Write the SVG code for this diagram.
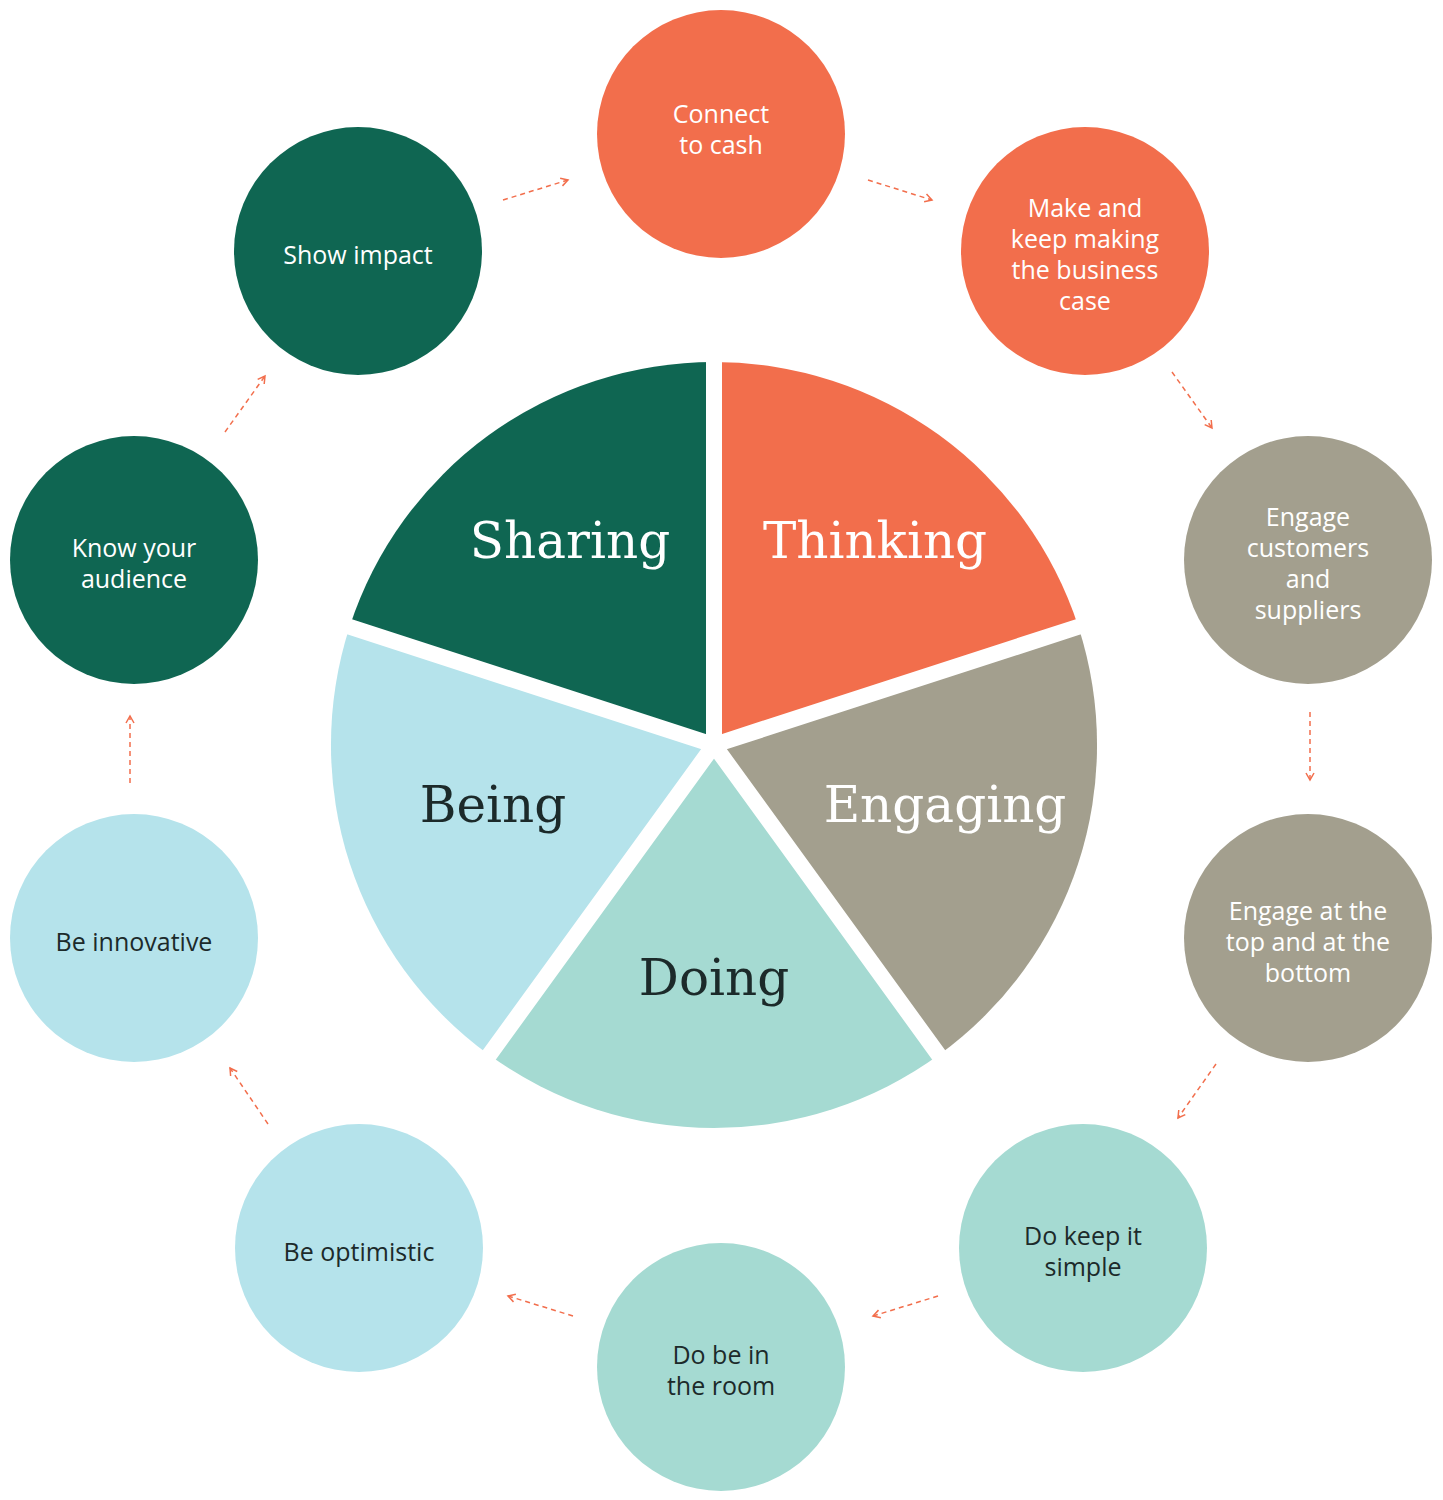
<svg xmlns="http://www.w3.org/2000/svg" width="1443" height="1500" viewBox="0 0 1443 1500">
<style>
.t{font-family:"Open Sans","Noto Sans",sans-serif;font-size:25px;text-anchor:middle}
.w{fill:#fff}.d{fill:#1c2a2a}
.s{font-family:"DejaVu Serif","Liberation Serif",serif;font-size:50px;text-anchor:middle}
.c{stroke:#F26E4C;stroke-width:1.5;stroke-dasharray:5 4;fill:none;marker-end:url(#a)}
</style>
<defs><marker id="a" markerWidth="10" markerHeight="10" refX="8" refY="5" orient="auto" markerUnits="userSpaceOnUse"><path d="M1,1 L8,5 L1,9" fill="none" stroke="#F26E4C" stroke-width="1.5"/></marker></defs>
<rect width="1443" height="1500" fill="#fff"/>
<g id="pie">
<path d="M714,745 L714,362 A383,383 0 0 1 1078.3,626.6Z" fill="#F26E4C"/>
<path d="M714,745 L1078.3,626.6 A383,383 0 0 1 939.1,1054.8Z" fill="#A39F8E"/>
<path d="M714,745 L939.1,1054.8 A383,383 0 0 1 488.9,1054.8Z" fill="#A5DAD2"/>
<path d="M714,745 L488.9,1054.8 A383,383 0 0 1 349.7,626.6Z" fill="#B5E3EB"/>
<path d="M714,745 L349.7,626.6 A383,383 0 0 1 714,362Z" fill="#0F6652"/>
<g stroke="#fff" stroke-width="16" stroke-linecap="round"><line x1="714" y1="745" x2="714" y2="350"/><line x1="714" y1="745" x2="1090" y2="623"/><line x1="714" y1="745" x2="946" y2="1065"/><line x1="714" y1="745" x2="482" y2="1065"/><line x1="714" y1="745" x2="338" y2="623"/></g>
<text class="s w" x="570" y="558">Sharing</text>
<text class="s w" x="875" y="558">Thinking</text>
<text class="s d" x="493" y="822">Being</text>
<text class="s w" x="945" y="822">Engaging</text>
<text class="s d" x="714" y="995">Doing</text>
</g>
<g id="n1"><circle cx="721" cy="134" r="124" fill="#F26E4C"/><text class="t w" x="721" y="123">Connect</text><text class="t w" x="721" y="154">to cash</text></g>
<g id="n2"><circle cx="1085" cy="251" r="124" fill="#F26E4C"/><text class="t w" x="1085" y="217">Make and</text><text class="t w" x="1085" y="248">keep making</text><text class="t w" x="1085" y="279">the business</text><text class="t w" x="1085" y="310">case</text></g>
<g id="n3"><circle cx="1308" cy="560" r="124" fill="#A39F8E"/><text class="t w" x="1308" y="526">Engage</text><text class="t w" x="1308" y="557">customers</text><text class="t w" x="1308" y="588">and</text><text class="t w" x="1308" y="619">suppliers</text></g>
<g id="n4"><circle cx="1308" cy="938" r="124" fill="#A39F8E"/><text class="t w" x="1308" y="920">Engage at the</text><text class="t w" x="1308" y="951">top and at the</text><text class="t w" x="1308" y="982">bottom</text></g>
<g id="n5"><circle cx="1083" cy="1248" r="124" fill="#A5DAD2"/><text class="t d" x="1083" y="1245">Do keep it</text><text class="t d" x="1083" y="1276">simple</text></g>
<g id="n6"><circle cx="721" cy="1367" r="124" fill="#A5DAD2"/><text class="t d" x="721" y="1364">Do be in</text><text class="t d" x="721" y="1395">the room</text></g>
<g id="n7"><circle cx="359" cy="1248" r="124" fill="#B5E3EB"/><text class="t d" x="359" y="1261">Be optimistic</text></g>
<g id="n8"><circle cx="134" cy="938" r="124" fill="#B5E3EB"/><text class="t d" x="134" y="951">Be innovative</text></g>
<g id="n9"><circle cx="134" cy="560" r="124" fill="#0F6652"/><text class="t w" x="134" y="557">Know your</text><text class="t w" x="134" y="588">audience</text></g>
<g id="n10"><circle cx="358" cy="251" r="124" fill="#0F6652"/><text class="t w" x="358" y="264">Show impact</text></g>
<g id="connectors">
<path class="c" d="M503,200 L568,180"/>
<path class="c" d="M868,180 L932,200"/>
<path class="c" d="M1172,372 L1212,428"/>
<path class="c" d="M1310,712 L1310,780"/>
<path class="c" d="M1216,1064 L1178,1118"/>
<path class="c" d="M938,1296 L873,1316"/>
<path class="c" d="M573,1316 L508,1296"/>
<path class="c" d="M268,1124 L230,1068"/>
<path class="c" d="M130,783 L130,716"/>
<path class="c" d="M225,432 L265,376"/>
</g>
</svg>
